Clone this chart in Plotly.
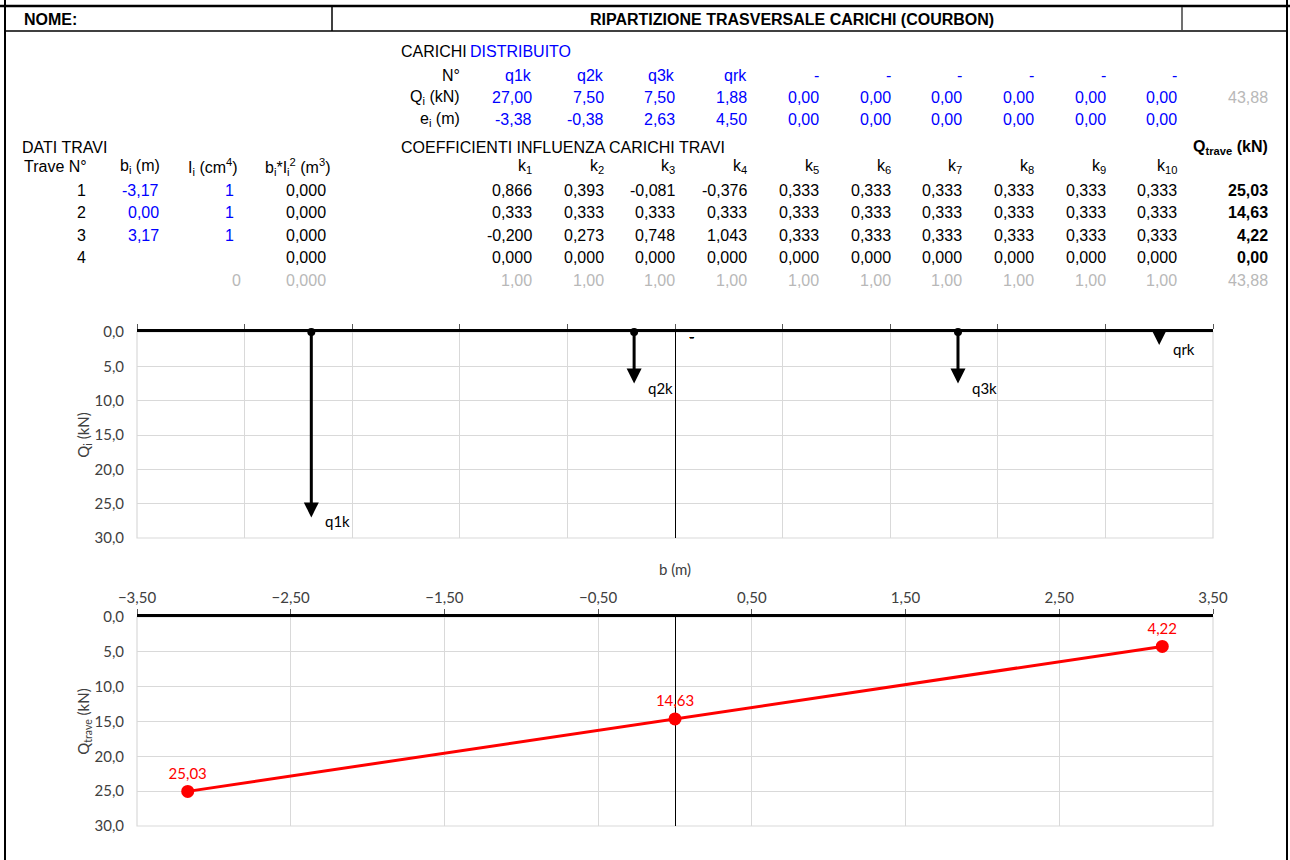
import plotly.graph_objects as go

# ---------------- data ----------------
load_names = ["q1k", "q2k", "q3k", "qrk", "-", "-", "-", "-", "-", "-"]
load_Q = [27.00, 7.50, 7.50, 1.88, 0.00, 0.00, 0.00, 0.00, 0.00, 0.00]
load_e = [-3.38, -0.38, 2.63, 4.50, 0.00, 0.00, 0.00, 0.00, 0.00, 0.00]
load_Q_total = 43.88

beam_numbers = [1, 2, 3, 4]
beam_b = [-3.17, 0.00, 3.17, None]
beam_I = [1, 1, 1, None]
beam_bI2 = [0.000, 0.000, 0.000, 0.000]
beam_I_total = 0
beam_bI2_total = 0.000

k_headers = ["k<sub>1</sub>", "k<sub>2</sub>", "k<sub>3</sub>", "k<sub>4</sub>", "k<sub>5</sub>",
             "k<sub>6</sub>", "k<sub>7</sub>", "k<sub>8</sub>", "k<sub>9</sub>", "k<sub>10</sub>"]
k_row1 = [0.866, 0.393, -0.081, -0.376, 0.333, 0.333, 0.333, 0.333, 0.333, 0.333]
k_row2 = [0.333, 0.333, 0.333, 0.333, 0.333, 0.333, 0.333, 0.333, 0.333, 0.333]
k_row3 = [-0.200, 0.273, 0.748, 1.043, 0.333, 0.333, 0.333, 0.333, 0.333, 0.333]
k_row4 = [0.000, 0.000, 0.000, 0.000, 0.000, 0.000, 0.000, 0.000, 0.000, 0.000]
k_totals = [1.00, 1.00, 1.00, 1.00, 1.00, 1.00, 1.00, 1.00, 1.00, 1.00]
Q_trave = [25.03, 14.63, 4.22, 0.00]
Q_trave_total = 43.88

# ---------------- styles ----------------
W, H = 1290, 860
TFONT = "Liberation Sans, Arial, sans-serif"
CFONT = "Lato, Carlito, Calibri, sans-serif"
BLUE = "#0000ff"
GRAY = "#b8b8b8"
GRID = "#d9d9d9"
HEAD_MIN = 2.5  # arrows shorter than this are drawn as a bare head (no start dot)


def fmt(v, d):
    return f"{v:.{d}f}".replace(".", ",")


def px(x):
    return x / W


def py(y):
    return 1 - y / H


annotations = []


def txt(x, y, s, anchor="right", color="black", size=16, bold=False):
    if bold:
        s = "<b>" + s + "</b>"
    annotations.append(dict(
        x=px(x), y=py(y), xref="paper", yref="paper", text=s, showarrow=False,
        xanchor=anchor, yanchor="middle", font=dict(family=TFONT, size=size, color=color)))


# ---------------- header ----------------
txt(22, 19, "NOME:", anchor="left", bold=True)
txt(792, 19, "RIPARTIZIONE TRASVERSALE CARICHI (COURBON)", anchor="center", bold=True)

# ---------------- loads table ----------------
col_x = [534 + i * 71.7 for i in range(10)]
txt(399, 51, "CARICHI", anchor="left")
txt(468, 51, "DISTRIBUITO", anchor="left", color=BLUE)
txt(462, 75, "N°")
txt(462, 97, "Q<sub>i</sub> (kN)")
txt(462, 119, "e<sub>i</sub> (m)")
for i in range(10):
    txt(col_x[i], 75, load_names[i], color=BLUE)
    txt(col_x[i], 97, fmt(load_Q[i], 2), color=BLUE)
    txt(col_x[i], 119, fmt(load_e[i], 2), color=BLUE)
txt(1270, 97, fmt(load_Q_total, 2), color=GRAY)

# ---------------- beams table ----------------
row_y = [190, 212, 234, 256]
txt(20, 147, "DATI TRAVI", anchor="left")
txt(89, 167, "Trave N°")
txt(162, 167, "b<sub>i</sub> (m)")
txt(240, 167, "I<sub>i</sub> (cm<sup>4</sup>)")
txt(332, 167, "b<sub>i</sub>*I<sub>i</sub><sup>2</sup> (m<sup>3</sup>)")
for j in range(4):
    txt(88, row_y[j] + 1, str(beam_numbers[j]))
    if beam_b[j] is not None:
        txt(161, row_y[j] + 1, fmt(beam_b[j], 2), color=BLUE)
    if beam_I[j] is not None:
        txt(236, row_y[j] + 1, str(beam_I[j]), color=BLUE)
    txt(328, row_y[j] + 1, fmt(beam_bI2[j], 3))
txt(243, 280, str(beam_I_total), color=GRAY)
txt(328, 280, fmt(beam_bI2_total, 3), color=GRAY)

# ---------------- coefficients table ----------------
txt(399, 147, "COEFFICIENTI INFLUENZA CARICHI TRAVI", anchor="left")
txt(1270, 147, "Q<sub>trave</sub> (kN)", bold=True)
k_rows = [k_row1, k_row2, k_row3, k_row4]
for i in range(10):
    txt(col_x[i], 167, k_headers[i])
    for j in range(4):
        txt(col_x[i], row_y[j] + 1, fmt(k_rows[j][i], 3))
    txt(col_x[i], 280, fmt(k_totals[i], 2), color=GRAY)
for j in range(4):
    txt(1270, row_y[j] + 1, fmt(Q_trave[j], 2), bold=True)
txt(1270, 280, fmt(Q_trave_total, 2), color=GRAY)

# ---------------- charts ----------------
fig = go.Figure()

# top chart: loads as arrows
dot_x = [load_e[i] for i in range(10) if load_Q[i] > HEAD_MIN]
dot_y = [0 for i in range(10) if load_Q[i] > HEAD_MIN]
fig.add_trace(go.Scatter(x=dot_x, y=dot_y, mode="markers",
                         marker=dict(color="black", size=8), xaxis="x", yaxis="y",
                         hoverinfo="skip", showlegend=False, cliponaxis=False))
for i in range(10):
    if load_Q[i] > 0:
        annotations.append(dict(
            x=load_e[i], y=load_Q[i], ax=load_e[i], ay=0,
            xref="x", yref="y", axref="x", ayref="y", text="",
            showarrow=True, arrowhead=2, arrowsize=1, arrowwidth=3, arrowcolor="black"))
    annotations.append(dict(
        x=load_e[i], y=load_Q[i], xref="x", yref="y", text=load_names[i],
        showarrow=False, xanchor="left", yanchor="middle", xshift=12, yshift=-4,
        font=dict(family=CFONT, size=15, color="black")))

# bottom chart: beam loads
bx = [beam_b[j] for j in range(4) if beam_b[j] is not None]
by = [Q_trave[j] for j in range(4) if beam_b[j] is not None]
fig.add_trace(go.Scatter(x=bx, y=by, mode="lines+markers+text",
                         line=dict(color="#ff0000", width=3),
                         marker=dict(color="#ff0000", size=13),
                         texttemplate="%{y:.2f}", textposition="top center",
                         textfont=dict(family=CFONT, size=15, color="#ff0000"),
                         xaxis="x2", yaxis="y2", hoverinfo="skip", showlegend=False,
                         cliponaxis=False))

x_dom = [px(137), px(1213)]
common_y = dict(range=[30, 0], dtick=5, tick0=0, tickformat=".1f", showgrid=True,
                gridcolor=GRID, gridwidth=1, zeroline=False, showline=False,
                ticks="", ticklabelstandoff=12, automargin=False,
                tickfont=dict(family=CFONT, size=15, color="#404040"))

fig.update_layout(
    width=W, height=H, margin=dict(l=0, r=0, t=0, b=0, pad=0, autoexpand=False),
    paper_bgcolor="white", plot_bgcolor="white",
    separators=",.", showlegend=False,
    xaxis=dict(domain=x_dom, anchor="y", range=[-5, 5], dtick=1, tick0=0, side="top",
               showline=True, linecolor="black", linewidth=2.5, ticks="outside",
               ticklen=5, tickcolor="#595959", showticklabels=False, automargin=False,
               showgrid=True, gridcolor=GRID, zeroline=True, zerolinecolor="black",
               zerolinewidth=1),
    yaxis=dict(domain=[py(538), py(332)], anchor="x",
               title=dict(text="Q<sub>i</sub> (kN)", standoff=1,
                          font=dict(family=CFONT, size=15, color="#404040")),
               **common_y),
    xaxis2=dict(domain=x_dom, anchor="y2", range=[-3.5, 3.5], dtick=1, tick0=-3.5,
                side="top", tickformat=".2f", automargin=False,
                showline=True, linecolor="black", linewidth=2.5, ticks="outside",
                ticklen=5, tickcolor="#595959",
                tickfont=dict(family=CFONT, size=15, color="#404040"),
                title=dict(text="b (m)", standoff=10,
                           font=dict(family=CFONT, size=15, color="#404040")),
                showgrid=True, gridcolor=GRID, zeroline=True, zerolinecolor="black",
                zerolinewidth=1),
    yaxis2=dict(domain=[py(826), py(617)], anchor="x2",
                title=dict(text="Q<sub>trave</sub> (kN)", standoff=1,
                           font=dict(family=CFONT, size=15, color="#404040")),
                **common_y),
    annotations=annotations,
)

# plot-area borders (gray frame like the spreadsheet chart)
for xa, ya in (("x", "y"), ("x2", "y2")):
    fig.add_shape(type="rect", xref=xa + " domain", yref=ya + " domain",
                  x0=0, x1=1, y0=0, y1=1, layer="below",
                  line=dict(color=GRID, width=1.2))

# ---------------- page frame ----------------
frame = [
    (0, 6, W, 6, 2.5, "black"),
    (5, 0, 5, H, 2, "black"),
    (1287, 0, 1287, H, 2, "black"),
    (5, 31, 1287, 31, 1.5, "black"),
    (332, 7, 332, 31, 1.5, "black"),
    (1182, 7, 1182, 31, 1.5, "#404040"),
]
for x0, y0, x1, y1, w, c in frame:
    fig.add_shape(type="line", xref="paper", yref="paper",
                  x0=px(x0), y0=py(y0), x1=px(x1), y1=py(y1),
                  line=dict(color=c, width=w))

fig.write_html("out.html")
